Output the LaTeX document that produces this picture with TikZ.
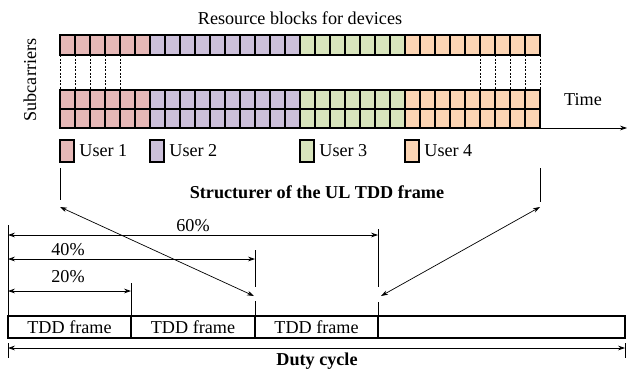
\documentclass[tikz,border=0pt]{standalone}
\usepackage{fontspec}
\setmainfont{Liberation Serif}
\usepackage{tikz}
\usetikzlibrary{arrows.meta,positioning,calc}

\definecolor{userA}{HTML}{E6B8B7}
\definecolor{userB}{HTML}{CCC0DA}
\definecolor{userC}{HTML}{D8E4BC}
\definecolor{userD}{HTML}{FCD5B4}

\tikzset{
    rb/.style={draw=black,line width=0.9pt},
    lbl/.style={font=\fontsize{15.5}{17}\selectfont,inner sep=1pt},
    bold/.style={font=\fontsize{15.5}{17}\selectfont\bfseries,inner sep=1pt},
    dbl/.style={{Stealth[length=6pt,width=4pt]}-{Stealth[length=6pt,width=4pt]},line width=0.6pt},
    tick/.style={line width=0.6pt}
}

\begin{document}
\begin{tikzpicture}[x=0.03cm,y=-0.03cm]
    \useasboundingbox (0,0) rectangle (627,370);

    % resource blocks
    \foreach \a/\b/\col in {0/5/userA,6/15/userB,16/22/userC,23/31/userD}
    {%
    \foreach \i in {\a,...,\b}
    {%
    \draw[rb,fill=\col] (60+15*\i,35) rectangle (75+15*\i,55);
    \draw[rb,fill=\col] (60+15*\i,90) rectangle (75+15*\i,109);
    \draw[rb,fill=\col] (60+15*\i,109) rectangle (75+15*\i,128);
    }%
    }
    \foreach \x in {60,75,90,105,120,480,495,510,525,540}
        \draw[dash pattern=on 2pt off 1pt,line width=0.4pt] (\x,55) -- (\x,90);

    \node[lbl] (title) at (300,18) {Resource blocks for devices};
    \node[lbl,rotate=90] (sub) at (30,80) {Subcarriers};
    \coordinate (t0) at (540,128);
    \coordinate (t1) at (627,128);
    \draw[tick,-{Stealth[length=6pt,width=4pt]}] (t0) -- (t1);
    \node[lbl] (time) at (583,100) {Time};

    % legend
    \foreach \x/\col/\n in {60/userA/1,150/userB/2,300/userC/3,405/userD/4}
    {%
    \draw[rb,line width=1.2pt,fill=\col] (\x,140) rectangle (\x+14,162);
    \node[lbl,anchor=west] (u\n) at (\x+18,151) {User \n};
    }

    % structure
    \coordinate (s1) at (60,207);
    \coordinate (s2) at (540,207);
    \draw[tick] (60,168) -- (60,200);
    \draw[tick] (540,168) -- (540,202);
    \node[bold] (struct) at (317,192) {Structurer of the UL TDD frame};

    % frame boundaries
    \coordinate (f0) at (8,316);
    \coordinate (f1) at (131,316);
    \coordinate (f2) at (255,316);
    \coordinate (f3) at (378,316);
    \coordinate (f4) at (625,316);
    \coordinate (e2) at (254,296);
    \coordinate (e3) at (381,296);
    \draw[tick] (8,225) -- (f0);
    \draw[tick] (131,283) -- (f1);
    \draw[tick] (255,250) -- (255,287);
    \draw[tick] (255,301) -- (f2);
    \draw[tick] (378,229) -- (378,287);
    \draw[tick] (378,302) -- (f3);

    \draw[dbl] (s1) -- (e2);
    \draw[dbl] (s2) -- (e3);

    % percentages
    \coordinate (p60a) at (8,235);
    \coordinate (p60b) at (378,235);
    \coordinate (p40a) at (8,259);
    \coordinate (p40b) at (255,259);
    \coordinate (p20a) at (8,291);
    \coordinate (p20b) at (131,291);
    \draw[dbl] (p60a) -- (p60b);
    \draw[dbl] (p40a) -- (p40b);
    \draw[dbl] (p20a) -- (p20b);
    \node[lbl] (l60) at (193,226) {60\%};
    \node[lbl] (l40) at (68,250) {40\%};
    \node[lbl] (l20) at (68,277) {20\%};

    % TDD frames
    \draw[rb,line width=1.2pt] (8,316) rectangle (625,338);
    \foreach \x in {131,255,378}
        \draw[rb,line width=1.2pt] (\x,316) -- (\x,338);
    \node[lbl] (fr1) at (69.5,327) {TDD frame};
    \node[lbl] (fr2) at (193,327) {TDD frame};
    \node[lbl] (fr3) at (316.5,327) {TDD frame};

    % duty cycle
    \coordinate (d0) at (8,348);
    \coordinate (d1) at (625,348);
    \draw[tick] (8,343) -- (8,358);
    \draw[tick] (625,343) -- (625,358);
    \draw[dbl] (d0) -- (d1);
    \node[bold] (duty) at (317,361) {Duty cycle};
\end{tikzpicture}
\end{document}
